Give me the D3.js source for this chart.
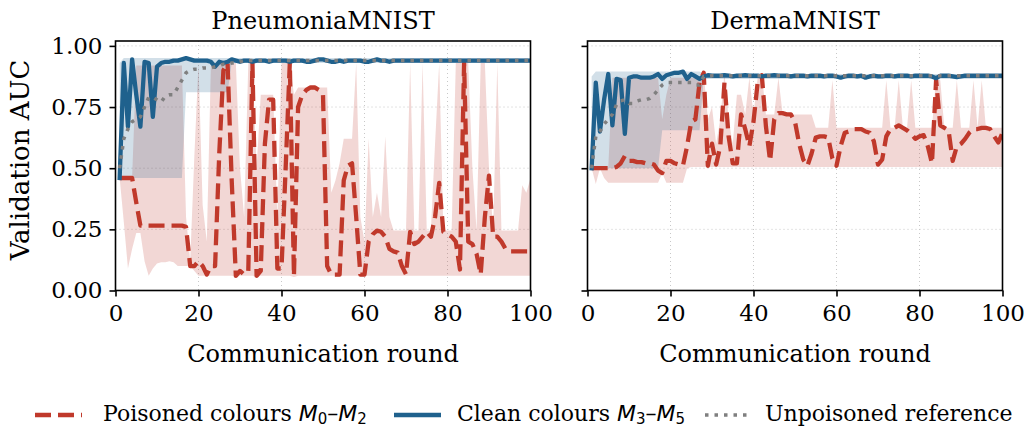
<!DOCTYPE html>
<html>
<head>
<meta charset="utf-8">
<script src="https://cdn.jsdelivr.net/npm/d3@7"></script>
<style>
  body { margin: 0; background: #fff; }
  text { font-family: "DejaVu Serif", serif; fill: #000; }
</style>
</head>
<body>
<svg id="chart" width="1027" height="427"></svg>
<script>
// communication rounds 1..100
var rounds = d3.range(1, 101);

// ---- PneumoniaMNIST ----
var pneuPoisMean = [0.46,0.46,0.46,0.46,0.36,0.265,0.265,0.265,0.265,0.265,
  0.265,0.265,0.265,0.265,0.265,0.265,0.26,0.10,0.10,0.12,
  0.10,0.065,0.10,0.10,0.56,0.90,0.93,0.45,0.06,0.08,
  0.065,0.08,0.93,0.06,0.08,0.60,0.78,0.78,0.09,0.09,
  0.50,0.93,0.06,0.75,0.80,0.82,0.83,0.83,0.82,0.80,
  0.10,0.065,0.065,0.065,0.45,0.51,0.52,0.30,0.065,0.065,
  0.20,0.23,0.245,0.24,0.22,0.17,0.16,0.155,0.10,0.066,
  0.24,0.19,0.20,0.22,0.24,0.22,0.30,0.44,0.24,0.23,
  0.22,0.20,0.086,0.93,0.20,0.19,0.15,0.066,0.30,0.47,
  0.22,0.22,0.20,0.17,0.16,0.16,0.16,0.16,0.16,0.16];
var pneuPoisHi = [0.46,0.46,0.46,0.46,0.92,0.92,0.92,0.92,0.92,0.92,
  0.92,0.92,0.92,0.92,0.92,0.92,0.30,0.12,0.55,0.93,
  0.35,0.20,0.93,0.93,0.93,0.93,0.93,0.93,0.93,0.50,
  0.30,0.93,0.93,0.50,0.80,0.80,0.80,0.80,0.30,0.93,
  0.93,0.93,0.80,0.83,0.83,0.83,0.83,0.83,0.83,0.83,
  0.83,0.40,0.45,0.52,0.62,0.62,0.62,0.93,0.30,0.20,
  0.62,0.30,0.40,0.30,0.63,0.30,0.245,0.245,0.245,0.245,
  0.93,0.245,0.245,0.93,0.245,0.245,0.60,0.93,0.245,0.245,
  0.245,0.93,0.93,0.93,0.93,0.50,0.245,0.93,0.93,0.50,
  0.245,0.93,0.245,0.245,0.245,0.245,0.245,0.43,0.40,0.46];
var pneuPoisLo = [0.46,0.28,0.09,0.17,0.235,0.235,0.12,0.06,0.09,0.11,
  0.115,0.115,0.12,0.115,0.10,0.10,0.10,0.10,0.08,0.06,
  0.06,0.06,0.06,0.06,0.06,0.06,0.06,0.06,0.055,0.06,
  0.06,0.06,0.06,0.055,0.06,0.06,0.06,0.06,0.06,0.06,
  0.06,0.06,0.055,0.06,0.06,0.06,0.06,0.06,0.06,0.06,
  0.06,0.06,0.06,0.06,0.06,0.06,0.06,0.06,0.06,0.06,
  0.06,0.06,0.06,0.06,0.06,0.06,0.06,0.06,0.06,0.06,
  0.06,0.06,0.06,0.06,0.06,0.06,0.06,0.06,0.06,0.06,
  0.06,0.06,0.06,0.06,0.06,0.06,0.06,0.06,0.06,0.06,
  0.06,0.06,0.06,0.06,0.06,0.06,0.06,0.06,0.06,0.06];
var pneuCleanMean = [0.46,0.93,0.67,0.945,0.80,0.67,0.935,0.93,0.71,0.915,
  0.93,0.935,0.935,0.94,0.94,0.945,0.95,0.945,0.94,0.94,
  0.94,0.94,0.935,0.915,0.935,0.93,0.935,0.945,0.94,0.935,
  0.94,0.94,0.935,0.94,0.94,0.94,0.935,0.94,0.94,0.94,
  0.94,0.935,0.94,0.94,0.94,0.935,0.935,0.94,0.945,0.945,
  0.94,0.935,0.935,0.94,0.935,0.94,0.94,0.94,0.94,0.935,
  0.935,0.94,0.945,0.94,0.94,0.935,0.94,0.94,0.94,0.94,
  0.94,0.94,0.94,0.94,0.94,0.94,0.94,0.94,0.94,0.94,
  0.94,0.94,0.94,0.94,0.94,0.94,0.94,0.94,0.94,0.94,
  0.94,0.94,0.94,0.94,0.94,0.94,0.94,0.94,0.94,0.94];
var pneuCleanHi = [0.93,0.95,0.95,0.95,0.95,0.95,0.95,0.95,0.95,0.95,
  0.95,0.95,0.95,0.95,0.95,0.95,0.95,0.95,0.95,0.95,
  0.95,0.95,0.95,0.95,0.95,0.95,0.95,0.95,0.95,0.95,
  0.95,0.95,0.95,0.95,0.95,0.95,0.95,0.95,0.95,0.95,
  0.95,0.95,0.95,0.95,0.95,0.95,0.95,0.95,0.95,0.95,
  0.95,0.95,0.95,0.95,0.95,0.95,0.95,0.95,0.95,0.95,
  0.95,0.95,0.95,0.95,0.95,0.95,0.95,0.95,0.95,0.95,
  0.95,0.95,0.95,0.95,0.95,0.95,0.95,0.95,0.95,0.95,
  0.95,0.95,0.95,0.95,0.95,0.95,0.95,0.95,0.95,0.95,
  0.95,0.95,0.95,0.95,0.95,0.95,0.95,0.95,0.95,0.95];
var pneuCleanLo = [0.46,0.46,0.46,0.46,0.46,0.46,0.46,0.46,0.46,0.46,
  0.46,0.46,0.46,0.46,0.46,0.46,0.81,0.81,0.81,0.81,
  0.81,0.81,0.81,0.81,0.81,0.81,0.81,0.93,0.93,0.93,
  0.93,0.93,0.93,0.93,0.93,0.93,0.93,0.93,0.93,0.93,
  0.93,0.93,0.93,0.93,0.93,0.93,0.93,0.93,0.93,0.93,
  0.93,0.93,0.93,0.93,0.93,0.93,0.93,0.93,0.93,0.93,
  0.93,0.93,0.93,0.93,0.93,0.93,0.93,0.93,0.93,0.93,
  0.93,0.93,0.93,0.93,0.93,0.93,0.93,0.93,0.93,0.93,
  0.93,0.93,0.93,0.93,0.93,0.93,0.93,0.93,0.93,0.93,
  0.93,0.93,0.93,0.93,0.93,0.93,0.93,0.93,0.93,0.93];
var pneuRef = [0.50,0.62,0.66,0.69,0.70,0.71,0.75,0.79,0.79,0.78,
  0.77,0.795,0.80,0.80,0.83,0.86,0.89,0.90,0.905,0.905,
  0.91,0.91,0.91,0.915,0.92,0.925,0.925,0.93,0.93,0.935,
  0.94,0.94,0.94,0.94,0.94,0.94,0.94,0.94,0.94,0.94,
  0.94,0.94,0.94,0.94,0.94,0.94,0.94,0.94,0.94,0.94,
  0.94,0.94,0.94,0.94,0.94,0.94,0.94,0.94,0.94,0.94,
  0.94,0.94,0.94,0.94,0.94,0.94,0.94,0.94,0.94,0.94,
  0.94,0.94,0.94,0.94,0.94,0.94,0.94,0.94,0.94,0.94,
  0.94,0.94,0.94,0.94,0.94,0.94,0.94,0.94,0.94,0.94,
  0.94,0.94,0.94,0.94,0.94,0.94,0.94,0.94,0.94,0.94];

// ---- DermaMNIST ----
var dermPoisMean = [0.50,0.50,0.50,0.50,0.50,0.50,0.505,0.52,0.55,0.53,
  0.53,0.525,0.525,0.52,0.52,0.515,0.49,0.48,0.53,0.53,
  0.52,0.515,0.51,0.59,0.69,0.70,0.85,0.89,0.51,0.60,
  0.515,0.59,0.85,0.63,0.52,0.52,0.72,0.66,0.59,0.69,
  0.85,0.88,0.67,0.53,0.70,0.725,0.725,0.72,0.72,0.69,
  0.60,0.535,0.51,0.56,0.625,0.63,0.63,0.625,0.54,0.51,
  0.59,0.645,0.65,0.66,0.66,0.66,0.65,0.645,0.61,0.515,
  0.535,0.63,0.66,0.665,0.675,0.665,0.655,0.64,0.62,0.63,
  0.635,0.59,0.52,0.86,0.675,0.665,0.655,0.53,0.59,0.60,
  0.62,0.645,0.66,0.66,0.665,0.665,0.66,0.63,0.605,0.645];
var dermPoisHi = [0.50,0.50,0.50,0.50,0.50,0.87,0.87,0.87,0.87,0.87,
  0.87,0.87,0.87,0.87,0.87,0.87,0.87,0.70,0.80,0.87,
  0.87,0.87,0.87,0.87,0.87,0.87,0.87,0.89,0.70,0.75,
  0.60,0.70,0.89,0.70,0.60,0.80,0.80,0.72,0.87,0.72,
  0.87,0.89,0.72,0.72,0.72,0.87,0.725,0.72,0.72,0.72,
  0.72,0.72,0.72,0.72,0.665,0.665,0.665,0.665,0.86,0.665,
  0.665,0.665,0.665,0.665,0.665,0.665,0.665,0.665,0.665,0.665,
  0.665,0.86,0.665,0.665,0.86,0.665,0.665,0.86,0.665,0.665,
  0.665,0.665,0.665,0.87,0.86,0.665,0.665,0.665,0.86,0.665,
  0.665,0.665,0.86,0.665,0.86,0.665,0.665,0.665,0.665,0.665];
var dermPoisLo = [0.50,0.435,0.50,0.46,0.44,0.44,0.44,0.44,0.44,0.44,
  0.44,0.44,0.44,0.44,0.44,0.44,0.44,0.48,0.44,0.44,
  0.44,0.44,0.44,0.50,0.505,0.505,0.505,0.505,0.505,0.505,
  0.505,0.505,0.505,0.505,0.505,0.505,0.505,0.505,0.505,0.505,
  0.505,0.505,0.505,0.505,0.505,0.505,0.505,0.505,0.505,0.505,
  0.505,0.505,0.505,0.505,0.505,0.505,0.505,0.505,0.505,0.505,
  0.505,0.505,0.505,0.505,0.505,0.505,0.505,0.505,0.505,0.505,
  0.505,0.505,0.505,0.505,0.505,0.505,0.505,0.505,0.505,0.505,
  0.505,0.505,0.505,0.505,0.505,0.505,0.505,0.505,0.505,0.505,
  0.505,0.505,0.505,0.505,0.505,0.505,0.505,0.505,0.505,0.505];
var dermCleanMean = [0.50,0.85,0.65,0.78,0.885,0.675,0.865,0.86,0.64,0.87,
  0.875,0.875,0.87,0.87,0.87,0.875,0.885,0.865,0.88,0.885,
  0.89,0.89,0.895,0.865,0.885,0.875,0.865,0.875,0.88,0.878,
  0.878,0.878,0.88,0.878,0.875,0.878,0.878,0.88,0.878,0.878,
  0.878,0.875,0.878,0.878,0.88,0.878,0.878,0.878,0.875,0.878,
  0.878,0.878,0.875,0.878,0.878,0.878,0.875,0.878,0.878,0.875,
  0.87,0.875,0.878,0.878,0.875,0.878,0.87,0.875,0.878,0.875,
  0.875,0.878,0.878,0.875,0.878,0.878,0.878,0.875,0.878,0.878,
  0.878,0.878,0.875,0.868,0.878,0.878,0.878,0.875,0.872,0.875,
  0.878,0.878,0.878,0.878,0.878,0.878,0.878,0.878,0.878,0.878];
var dermCleanHi = [0.875,0.895,0.895,0.895,0.895,0.895,0.895,0.895,0.895,0.895,
  0.895,0.895,0.895,0.895,0.895,0.895,0.895,0.895,0.895,0.895,
  0.90,0.90,0.90,0.895,0.895,0.895,0.895,0.885,0.885,0.885,
  0.885,0.885,0.885,0.885,0.885,0.885,0.885,0.885,0.885,0.885,
  0.885,0.885,0.885,0.885,0.885,0.885,0.885,0.885,0.885,0.885,
  0.885,0.885,0.885,0.885,0.885,0.885,0.885,0.885,0.885,0.885,
  0.885,0.885,0.885,0.885,0.885,0.885,0.885,0.885,0.885,0.885,
  0.885,0.885,0.885,0.885,0.885,0.885,0.885,0.885,0.885,0.885,
  0.885,0.885,0.885,0.885,0.885,0.885,0.885,0.885,0.885,0.885,
  0.885,0.885,0.885,0.885,0.885,0.885,0.885,0.885,0.885,0.885];
var dermCleanLo = [0.50,0.50,0.50,0.50,0.50,0.50,0.50,0.50,0.50,0.50,
  0.50,0.50,0.50,0.50,0.50,0.50,0.50,0.655,0.655,0.655,
  0.655,0.655,0.655,0.655,0.655,0.655,0.655,0.865,0.865,0.865,
  0.865,0.865,0.865,0.865,0.865,0.865,0.865,0.865,0.865,0.865,
  0.865,0.865,0.865,0.865,0.865,0.865,0.865,0.865,0.865,0.865,
  0.865,0.865,0.865,0.865,0.865,0.865,0.865,0.865,0.865,0.865,
  0.865,0.865,0.865,0.865,0.865,0.865,0.865,0.865,0.865,0.865,
  0.865,0.865,0.865,0.865,0.865,0.865,0.865,0.865,0.865,0.865,
  0.865,0.865,0.865,0.865,0.865,0.865,0.865,0.865,0.865,0.865,
  0.865,0.865,0.865,0.865,0.865,0.865,0.865,0.865,0.865,0.865];
var dermRef = [0.50,0.63,0.65,0.68,0.70,0.72,0.76,0.775,0.78,0.765,
  0.765,0.775,0.78,0.78,0.785,0.80,0.82,0.84,0.85,0.85,
  0.85,0.85,0.85,0.85,0.85,0.84,0.84,0.875,0.875,0.878,
  0.878,0.878,0.878,0.878,0.878,0.878,0.878,0.878,0.878,0.878,
  0.878,0.878,0.878,0.878,0.878,0.878,0.878,0.878,0.878,0.878,
  0.878,0.878,0.878,0.878,0.878,0.878,0.878,0.878,0.878,0.878,
  0.878,0.878,0.878,0.878,0.878,0.878,0.878,0.878,0.878,0.878,
  0.878,0.878,0.878,0.878,0.878,0.878,0.878,0.878,0.878,0.878,
  0.878,0.878,0.878,0.878,0.878,0.878,0.878,0.878,0.878,0.878,
  0.878,0.878,0.878,0.878,0.878,0.878,0.878,0.878,0.878,0.878];

var xTicks = [0, 20, 40, 60, 80, 100];
var yTicks = [0, 0.25, 0.5, 0.75, 1.0];

var RED = "#c0392b", BLUE = "#1f618d", GREY = "#7f7f7f";
var RED_DASH = "16,7", GREY_DOT = "3.5,6";

var svg = d3.select("#chart");

var panels = [
  {title: "PneumoniaMNIST", left: 115.5, right: 530.5, yLabels: true,
   pm: pneuPoisMean, ph: pneuPoisHi, pl: pneuPoisLo,
   cm: pneuCleanMean, ch: pneuCleanHi, cl: pneuCleanLo, ref: pneuRef},
  {title: "DermaMNIST", left: 587.5, right: 1002.5, yLabels: false,
   pm: dermPoisMean, ph: dermPoisHi, pl: dermPoisLo,
   cm: dermCleanMean, ch: dermCleanHi, cl: dermCleanLo, ref: dermRef}
];
var plotTop = 41, plotBottom = 290.5;

panels.forEach(function(p, i) {
  var x = d3.scaleLinear().domain([0, 100]).range([p.left, p.right]);
  var y = d3.scaleLinear().domain([0, 1.02]).range([plotBottom, plotTop]);
  var g = svg.append("g");

  g.append("clipPath").attr("id", "clip" + i)
    .append("rect").attr("x", p.left).attr("y", plotTop)
    .attr("width", p.right - p.left).attr("height", plotBottom - plotTop);

  // grid
  g.selectAll(".gx").data(xTicks).enter().append("line")
    .attr("x1", d => x(d)).attr("x2", d => x(d))
    .attr("y1", plotTop).attr("y2", plotBottom)
    .attr("stroke", "#c8c8c8").attr("stroke-width", 1)
    .attr("stroke-dasharray", "1,3");
  g.selectAll(".gy").data(yTicks).enter().append("line")
    .attr("x1", p.left).attr("x2", p.right)
    .attr("y1", d => y(d)).attr("y2", d => y(d))
    .attr("stroke", "#c8c8c8").attr("stroke-width", 1)
    .attr("stroke-dasharray", "1,3");

  var plot = g.append("g").attr("clip-path", "url(#clip" + i + ")");

  var band = function(lo, hi) {
    return d3.area()
      .x((d, k) => x(rounds[k]))
      .y0((d, k) => y(lo[k]))
      .y1((d, k) => y(hi[k]))(rounds);
  };
  var line = function(vals) {
    return d3.line().x((d, k) => x(rounds[k])).y(d => y(d))(vals);
  };

  plot.append("path").attr("d", band(p.pl, p.ph))
    .attr("fill", RED).attr("fill-opacity", 0.2);
  plot.append("path").attr("d", band(p.cl, p.ch))
    .attr("fill", BLUE).attr("fill-opacity", 0.2);

  plot.append("path").attr("d", line(p.pm))
    .attr("fill", "none").attr("stroke", RED).attr("stroke-width", 4.3)
    .attr("stroke-dasharray", RED_DASH).attr("stroke-linejoin", "round");
  plot.append("path").attr("d", line(p.cm))
    .attr("fill", "none").attr("stroke", BLUE).attr("stroke-width", 4.3)
    .attr("stroke-linejoin", "round").attr("stroke-linecap", "square");
  plot.append("path").attr("d", line(p.ref))
    .attr("fill", "none").attr("stroke", GREY).attr("stroke-width", 3.5)
    .attr("stroke-dasharray", GREY_DOT);

  // axes
  var xAxis = d3.axisBottom(x).tickValues(xTicks).tickSize(6).tickPadding(8)
    .tickFormat(d3.format("d"));
  var gx = g.append("g").attr("transform", "translate(0," + plotBottom + ")").call(xAxis);
  var yAxis = d3.axisLeft(y).tickValues(yTicks).tickSize(6).tickPadding(7)
    .tickFormat(p.yLabels ? d3.format(".2f") : "");
  var gy = g.append("g").attr("transform", "translate(" + p.left + ",0)").call(yAxis);
  [gx, gy].forEach(function(a) {
    a.select(".domain").remove();
    a.selectAll(".tick line").attr("stroke", "#000").attr("stroke-width", 1.6);
    a.selectAll(".tick text").attr("font-family", "DejaVu Serif")
      .attr("font-size", 23).attr("fill", "#000");
  });

  g.append("rect").attr("x", p.left).attr("y", plotTop)
    .attr("width", p.right - p.left).attr("height", plotBottom - plotTop)
    .attr("fill", "none").attr("stroke", "#000").attr("stroke-width", 1.6);

  g.append("text").attr("x", (p.left + p.right) / 2).attr("y", 29)
    .attr("text-anchor", "middle").attr("font-size", 24).text(p.title);
  g.append("text").attr("x", (p.left + p.right) / 2).attr("y", 362)
    .attr("text-anchor", "middle").attr("font-size", 24).text("Communication round");
});

svg.append("text")
  .attr("transform", "translate(29,160) rotate(-90)")
  .attr("text-anchor", "middle").attr("font-size", 26).text("Validation AUC");

// legend
var legend = [
  {name: "Poisoned colours ", a: "0", b: "2", color: RED, dash: RED_DASH, w: 4.3, x: 35, tx: 103},
  {name: "Clean colours ", a: "3", b: "5", color: BLUE, dash: null, w: 4.3, x: 394, tx: 457},
  {name: "Unpoisoned reference", color: GREY, dash: GREY_DOT, w: 3.5, x: 705, tx: 765}
];
var ly = 415;
legend.forEach(function(l) {
  var lg = svg.append("g");
  lg.append("line").attr("x1", l.x).attr("x2", l.x + 47).attr("y1", ly).attr("y2", ly)
    .attr("stroke", l.color).attr("stroke-width", l.w)
    .attr("stroke-dasharray", l.dash);
  var t = lg.append("text").attr("x", l.tx).attr("y", ly + 6).attr("font-size", 22);
  t.append("tspan").text(l.name);
  if (l.a) {
    t.append("tspan").attr("font-family", "DejaVu Sans").attr("font-style", "italic").text("M");
    t.append("tspan").attr("font-family", "DejaVu Sans").attr("font-size", 15).attr("dy", 3).text(l.a);
    t.append("tspan").attr("dy", -3).text("\u2013");
    t.append("tspan").attr("font-family", "DejaVu Sans").attr("font-style", "italic").text("M");
    t.append("tspan").attr("font-family", "DejaVu Sans").attr("font-size", 15).attr("dy", 3).text(l.b);
  }
});
</script>
</body>
</html>
